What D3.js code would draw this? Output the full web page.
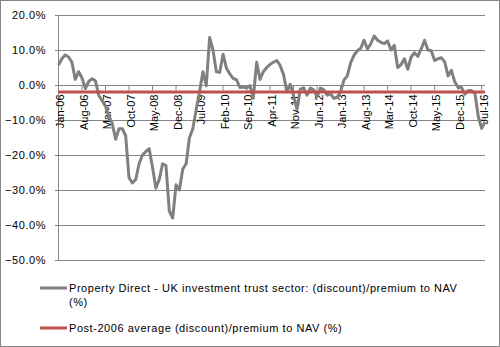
<!DOCTYPE html>
<html>
<head>
<meta charset="utf-8">
<script src="https://cdn.jsdelivr.net/npm/d3@7"></script>
<style>
    body { margin: 0; background: #fff; }
    text { font-family: "Liberation Sans", Arial, sans-serif; font-size: 11px; fill: #000; }
    .YLabel, .Legend text { letter-spacing: 0.55px; }
</style>
</head>
<body>
<script>

// data (monthly, Jan-06 .. Aug-16)
const FIRST_MONTH = new Date(Date.UTC(2006, 0, 1));
const LAST_MONTH = new Date(Date.UTC(2016, 7, 1));

const discount_values = [
    5.7, 7.5, 8.6, 8.0, 6.5, 1.6, 3.8, 2.0, -1.0, 1.0, 1.8, 1.2,
    -3.0, -4.5, -6.0, -9.0, -11.0, -15.5, -12.5, -12.5, -14.5, -26.5, -28.0, -27.0,
    -22.5, -20.0, -19.0, -18.2, -23.5, -29.5, -27.0, -22.5, -23.0, -36.0, -38.0, -28.5,
    -30.0, -24.0, -22.5, -15.0, -12.5, -7.0, -2.0, 3.8, -0.2, 13.6, 10.0, 3.8,
    3.6, 8.8, 4.8, 3.2, 1.9, 1.5, -0.7, -0.6, -0.9, -0.2, -3.8, 6.5,
    1.6, 3.8, 5.0, 5.9, 6.5, 7.0, 5.6, 3.0, -1.9, 0.2, -3.0, -7.0,
    -1.2, -0.8, -2.9, -0.9, -1.4, -3.3, -0.9, -1.4, -2.9, -2.5, -3.8, -3.5,
    -1.9, 1.4, 2.6, 6.4, 8.5, 9.8, 10.5, 12.8, 10.3, 11.8, 14.0, 12.8,
    12.2, 11.8, 12.6, 10.0, 11.3, 5.0, 5.8, 7.5, 4.5, 8.0, 9.2, 8.2,
    10.3, 12.8, 10.0, 9.8, 7.0, 7.5, 7.8, 6.6, 2.6, 4.2, 0.9, -0.7,
    -0.7, -2.6, -1.6, -1.6, -2.4, -9.0, -12.4, -10.5
];
const average_value = -2.0;

const tick_labels = ["Jan-06", "Aug-06", "Mar-07", "Oct-07", "May-08", "Dec-08", "Jul-09",
    "Feb-10", "Sep-10", "Apr-11", "Nov-11", "Jun-12", "Jan-13", "Aug-13", "Mar-14",
    "Oct-14", "May-15", "Dec-15", "Jul-16"];
const y_ticks = [20, 10, 0, -10, -20, -30, -40, -50];

const legend_labels = [
    "Property Direct - UK investment trust sector: (discount)/premium to NAV (%)",
    "Post-2006 average (discount)/premium to NAV (%)"
];
const legend_colors = ["#808080", "#C0504D"];

// setup
const WIDTH = 500;
const HEIGHT = 347;
const GRID_COLOR = "#868686";

const format_month = d3.utcFormat("%b-%y");
const months = d3.utcMonth.range(FIRST_MONTH, d3.utcMonth.offset(LAST_MONTH, 1)).map(format_month);
const series = months.map((m, i) => ({month: m, value: discount_values[i]}));

const svg = d3.select("body").append("svg")
    .attr("width", WIDTH)
    .attr("height", HEIGHT);

svg.append("rect")
    .attr("x", 0.5).attr("y", 0.5)
    .attr("width", WIDTH - 1).attr("height", HEIGHT - 1)
    .attr("fill", "#fff")
    .attr("stroke", GRID_COLOR);

const x = d3.scalePoint()
    .domain(months)
    .range([58.5, 485]);

const y = d3.scaleLinear()
    .domain([-50, 20])
    .range([260, 15]);

// gridlines + y labels
const grid = svg.append("g");
grid.selectAll("line")
    .data(y_ticks)
    .enter()
    .append("line")
    .attr("x1", 55).attr("x2", 485)
    .attr("y1", d => Math.round(y(d)) + 0.5)
    .attr("y2", d => Math.round(y(d)) + 0.5)
    .attr("stroke", GRID_COLOR);

grid.selectAll("text")
    .data(y_ticks)
    .enter()
    .append("text")
    .attr("class", "YLabel")
    .attr("x", 46)
    .attr("y", d => y(d))
    .attr("dy", "0.35em")
    .attr("text-anchor", "end")
    .text(d => d3.format(".1f")(d) + "%");

svg.append("line")
    .attr("x1", 58.5).attr("x2", 58.5)
    .attr("y1", y(20)).attr("y2", y(-50))
    .attr("stroke", GRID_COLOR);

// category axis sits on 0%
const zero_y = Math.round(y(0)) + 0.5;
const x_axis = svg.append("g");
x_axis.selectAll("line")
    .data(tick_labels)
    .enter()
    .append("line")
    .attr("x1", d => x(d)).attr("x2", d => x(d))
    .attr("y1", zero_y).attr("y2", zero_y + 5)
    .attr("stroke", GRID_COLOR);

x_axis.selectAll("text")
    .data(tick_labels)
    .enter()
    .append("text")
    .attr("transform", d => "translate(" + (x(d) + 2) + "," + (zero_y + 9) + ") rotate(-90)")
    .attr("dy", "0.35em")
    .attr("text-anchor", "end")
    .text(d => d);

// series
const line = d3.line()
    .x(d => x(d.month))
    .y(d => y(d.value));

svg.append("path")
    .datum(series)
    .attr("fill", "none")
    .attr("stroke", legend_colors[0])
    .attr("stroke-width", 3)
    .attr("stroke-linejoin", "round")
    .attr("d", line);

svg.append("path")
    .datum(months.map(m => ({month: m, value: average_value})))
    .attr("fill", "none")
    .attr("stroke", legend_colors[1])
    .attr("stroke-width", 3)
    .attr("d", line);

// legend
const legend_rows = [288, 328];
const legend = svg.append("g").attr("class", "Legend");
legend_labels.forEach((label, i) => {
    legend.append("line")
        .attr("x1", 40).attr("x2", 67)
        .attr("y1", legend_rows[i]).attr("y2", legend_rows[i])
        .attr("stroke", legend_colors[i])
        .attr("stroke-width", 3);

    const txt = legend.append("text")
        .attr("x", 69)
        .attr("y", legend_rows[i] + 4);

    // simple word wrap
    const words = label.split(" ");
    let tspan = txt.append("tspan").attr("x", 69);
    let current = [];
    words.forEach(w => {
        current.push(w);
        tspan.text(current.join(" "));
        if (tspan.node().getComputedTextLength() > 405 && current.length > 1) {
            current.pop();
            tspan.text(current.join(" "));
            current = [w];
            tspan = txt.append("tspan").attr("x", 69).attr("dy", 14).text(w);
        }
    });
});

</script>
</body>
</html>
